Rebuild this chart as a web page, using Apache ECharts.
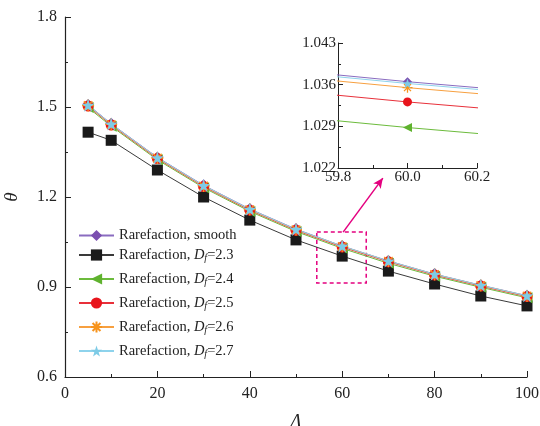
<!DOCTYPE html>
<html><head><meta charset="utf-8">
<script src="https://cdn.jsdelivr.net/npm/echarts@6/dist/echarts.min.js"></script>
<style>html,body{margin:0;padding:0;background:#fff}#c{width:540px;height:426px}</style>
</head><body><div id="c"></div>
<script>
const xVals = [5,10,20,30,40,50,60,70,80,90,100];
const smooth = [1.507,1.444,1.332,1.239,1.160,1.093,1.0365,0.987,0.943,0.906,0.871];
const df23 = [1.416,1.389,1.290,1.200,1.123,1.057,1.003,0.953,0.910,0.870,0.837];
const df24 = [1.498,1.436,1.324,1.231,1.152,1.085,1.0288,0.979,0.936,0.899,0.864];
const df25 = [1.503,1.440,1.328,1.235,1.156,1.089,1.0331,0.984,0.940,0.903,0.868];
const df26 = [1.505,1.442,1.330,1.237,1.158,1.091,1.0355,0.986,0.942,0.905,0.870];
const df27 = [1.506,1.443,1.331,1.238,1.159,1.092,1.0362,0.9865,0.9425,0.9055,0.8705];
const seriesNames = ['Rarefaction, smooth','Rarefaction, Df=2.3','Rarefaction, Df=2.4','Rarefaction, Df=2.5','Rarefaction, Df=2.6','Rarefaction, Df=2.7'];
const yMainTicks = [0.6,0.9,1.2,1.5,1.8];
const xMainTicks = [0,20,40,60,80,100];
const insetX = [59.8,60.0,60.2];
const insetY = [1.022,1.029,1.036,1.043];
// zoom box (data coordinates of annotation)
const boxCorners = [[54.5,1.083],[65.2,0.913]];
const arrowPts = [[60.2,1.083],[68.8,1.263]];

const allData = [smooth, df23, df24, df25, df26, df27];
const colors = ['#7b4fb0','#1a1a1a','#5fb22e','#e8141c','#f7941d','#7ecbe6'];
const lineColors = ['#8a6cc0','#3a3a3a','#6cbb3c','#e8303a','#f7a040','#8ed3ec'];
const asterisk = 'path://M5,0L5,10M0,5L10,5M1.5,1.5L8.5,8.5M8.5,1.5L1.5,8.5';
const star = 'path://M50,0L61.8,35.3L98.9,35.3L68.9,57.3L80.3,92.7L50,70.8L19.7,92.7L31.1,57.3L1.1,35.3L38.2,35.3Z';
const symbols = ['diamond','rect','path://M0,5L10,0L10,10Z','circle',asterisk,star];
const sizes = [12,11,11,11,12,13];
const insetSizes = [9,8,9,9,10,10];

const serif = 'Liberation Serif';
function pairs(d){ return xVals.map((x,i)=>[x,d[i]]); }

const series = [];
allData.forEach((d,k)=>{
  const isAst = k===4;
  const base = {
    name: seriesNames[k], type:'line', data: pairs(d),
    symbol: symbols[k],
    lineStyle:{color: lineColors[k], width:1},
    itemStyle: isAst ? {color:'rgba(0,0,0,0)', borderColor: colors[k], borderWidth:1.3} : {color: colors[k]},
    emphasis:{disabled:true}, animation:false, clip:true
  };
  series.push(Object.assign({}, base, {xAxisIndex:0,yAxisIndex:0,symbolSize:sizes[k]}));
  series.push(Object.assign({}, base, {xAxisIndex:1,yAxisIndex:1,symbolSize:insetSizes[k]}));
});
series.push({
  type:'line', xAxisIndex:0, yAxisIndex:0, data:[], silent:true, animation:false,
  markArea:{silent:true, itemStyle:{color:'rgba(0,0,0,0)', borderColor:'#e4007f', borderWidth:1.5, borderType:[4,3]},
    data:[[{coord:boxCorners[0]},{coord:boxCorners[1]}]]},
  markLine:{silent:true, symbol:['none','arrow'], symbolSize:[7,10], label:{show:false},
    lineStyle:{color:'#e4007f', width:1.5, type:'solid'},
    data:[[{coord:arrowPts[0]},{coord:arrowPts[1]}]]}
});

const legendText = {fontFamily:serif, fontSize:14.5, color:'#222',
  rich:{
    n:{fontFamily:serif, fontSize:14.5, color:'#222', lineHeight:16},
    i:{fontFamily:serif, fontSize:14.5, fontStyle:'italic', color:'#222', lineHeight:16},
    s:{fontFamily:serif, fontSize:10, fontStyle:'italic', color:'#222', lineHeight:10, verticalAlign:'bottom', padding:[7,0,0,0]}
  }};
function legendFmt(name){
  const m = name.match(/Df=(.*)$/);
  if(m) return '{n|Rarefaction, }{i|D}{s|f}{n|='+m[1]+'}';
  return '{n|'+name+'}';
}

const chart = echarts.init(document.getElementById('c'), null, {renderer:'canvas'});
chart.setOption({
  backgroundColor:'#fff',
  animation:false,
  textStyle:{fontFamily:serif},
  grid:[
    {left:65, right:13, top:17, bottom:49, containLabel:false, outerBoundsMode:'none'},
    {left:338, top:43, width:139, height:125, containLabel:false, outerBoundsMode:'none'}
  ],
  legend:[
    {data: seriesNames.slice(0,1), orient:'vertical', left:73, top:223, itemWidth:35, itemHeight:14, itemGap:7,
     selectedMode:false, textStyle:legendText, formatter:legendFmt},
    {data: seriesNames.slice(1), orient:'vertical', left:73, top:241, itemWidth:35, itemHeight:14, itemGap:7,
     selectedMode:false, textStyle:legendText, formatter:legendFmt}
  ],
  xAxis:[
    {type:'value', gridIndex:0, min:xMainTicks[0], max:xMainTicks[xMainTicks.length-1], interval:20,
     name:'Λ', nameLocation:'middle', nameGap:35, nameTextStyle:{fontFamily:serif, fontStyle:'italic', fontSize:19, color:'#222'},
     axisLine:{lineStyle:{color:'#222', width:1.2}},
     axisTick:{inside:true, length:6, lineStyle:{color:'#222'}},
     minorTick:{show:true, splitNumber:2, length:3, lineStyle:{color:'#222'}},
     axisLabel:{fontFamily:serif, fontSize:16, color:'#222', margin:9},
     splitLine:{show:false}},
    {type:'value', gridIndex:1, min:insetX[0], max:insetX[2], interval:0.2,
     axisLine:{lineStyle:{color:'#222', width:1}},
     axisTick:{inside:true, length:5, lineStyle:{color:'#222'}},
     minorTick:{show:true, splitNumber:2, length:3, lineStyle:{color:'#222'}},
     axisLabel:{fontFamily:serif, fontSize:15, color:'#222', margin:2, formatter:v=>v.toFixed(1)},
     splitLine:{show:false}}
  ],
  yAxis:[
    {type:'value', gridIndex:0, min:yMainTicks[0], max:yMainTicks[yMainTicks.length-1], interval:0.3,
     name:'θ', nameLocation:'middle', nameGap:44, nameTextStyle:{fontFamily:serif, fontStyle:'italic', fontSize:19, color:'#222'},
     axisLine:{show:true, lineStyle:{color:'#222', width:1.2}},
     axisTick:{show:true, inside:true, length:6, lineStyle:{color:'#222'}},
     minorTick:{show:true, splitNumber:2, length:3, lineStyle:{color:'#222'}},
     axisLabel:{fontFamily:serif, fontSize:16, color:'#222', margin:8, formatter:v=>v.toFixed(1)},
     splitLine:{show:false}},
    {type:'value', gridIndex:1, min:insetY[0], max:insetY[3], interval:0.007,
     axisLine:{show:true, lineStyle:{color:'#222', width:1}},
     axisTick:{show:true, inside:true, length:5, lineStyle:{color:'#222'}},
     minorTick:{show:true, splitNumber:2, length:3, lineStyle:{color:'#222'}},
     axisLabel:{fontFamily:serif, fontSize:15, color:'#222', margin:2, formatter:v=>v.toFixed(3)},
     splitLine:{show:false}}
  ],
  series: series
});
</script></body></html>
